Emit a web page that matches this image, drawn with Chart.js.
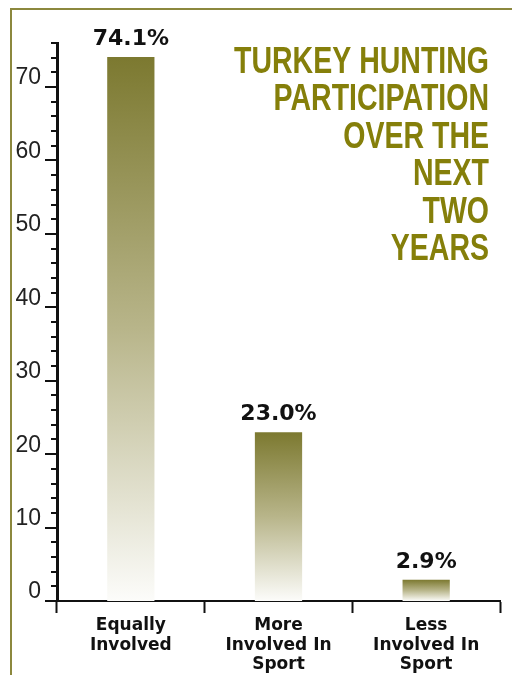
<!DOCTYPE html>
<html>
<head>
<meta charset="utf-8">
<script src="https://cdn.jsdelivr.net/npm/chart.js@4.4.1/dist/chart.umd.min.js"></script>
<style>
  html, body { margin: 0; padding: 0; background: #fff; }
  #wrap { width: 512px; height: 675px; }
</style>
</head>
<body>
<div id="wrap"><canvas id="chart" width="512" height="675"></canvas></div>
<script>
const categories = [
  ["Equally", "Involved"],
  ["More", "Involved In", "Sport"],
  ["Less", "Involved In", "Sport"],
];
const shares = [74.1, 23.0, 2.9];
const titleLines = ["TURKEY HUNTING", "PARTICIPATION", "OVER THE", "NEXT", "TWO", "YEARS"];
const yMax = 76;

const OLIVE = "rgb(133,127,10)";
const FRAME = "rgb(140,136,62)";

// vertical fade from olive at the bar top to almost white at the base
function barFill(context) {
  const chart = context.chart;
  if (!chart.chartArea || !chart.scales.y) return "rgb(125,122,50)";
  const y = chart.scales.y;
  const top = y.getPixelForValue(context.raw);
  const base = y.getPixelForValue(0);
  const g = chart.ctx.createLinearGradient(0, top, 0, base);
  g.addColorStop(0, "rgb(124,121,48)");
  g.addColorStop(0.5, "rgb(184,181,138)");
  g.addColorStop(1, "rgb(252,252,250)");
  return g;
}

const decorations = {
  id: "decorations",
  beforeDraw(chart) {
    const ctx = chart.ctx;
    ctx.save();
    ctx.fillStyle = "#fff";
    ctx.fillRect(0, 0, chart.width, chart.height);
    // frame along the top and left edges
    ctx.fillStyle = FRAME;
    ctx.fillRect(10, 8, chart.width - 10, 2);
    ctx.fillRect(10, 8, 2, chart.height - 8);
    ctx.restore();
  },
  afterDraw(chart) {
    const ctx = chart.ctx;
    const y = chart.scales.y;
    const left = Math.round(chart.chartArea.left);
    const top = Math.round(y.getPixelForValue(yMax));
    const base = Math.round(y.getPixelForValue(0));
    ctx.save();
    ctx.fillStyle = "#111";
    // value axis line
    ctx.fillRect(left - 1, top - 1, 3, base - top + 2);
    // major and minor ticks on the value axis
    for (let v = 0; v <= yMax; v += 2) {
      const py = Math.round(y.getPixelForValue(v));
      const len = v % 10 === 0 ? 12 : 6;
      ctx.fillRect(left - len, py - 1, len, 2);
    }

    // percentage labels above each bar
    ctx.font = "bold 22px 'DejaVu Sans'";
    ctx.textAlign = "center";
    ctx.textBaseline = "alphabetic";
    chart.getDatasetMeta(0).data.forEach((bar, i) => {
      ctx.fillText(shares[i].toFixed(1) + "%", bar.x, bar.y - 12);
    });

    // title block, right aligned
    ctx.fillStyle = OLIVE;
    ctx.font = "bold 37px 'Liberation Sans Narrow', 'Liberation Sans', sans-serif";
    const squeeze = Math.min(1, 255 / ctx.measureText(titleLines[0]).width);
    ctx.textAlign = "right";
    titleLines.forEach((line, i) => {
      ctx.save();
      ctx.translate(489, 73 + i * 37.4);
      ctx.scale(squeeze, 1);
      ctx.fillText(line, 0, 0);
      ctx.restore();
    });
    ctx.restore();
  },
};

new Chart(document.getElementById("chart"), {
  type: "bar",
  data: {
    labels: categories,
    datasets: [
      {
        data: shares,
        backgroundColor: barFill,
        borderWidth: 0,
        barPercentage: 0.32,
        categoryPercentage: 1,
      },
    ],
  },
  options: {
    responsive: false,
    animation: false,
    layout: { padding: { top: 43, right: 12, bottom: 0, left: 0 } },
    plugins: {
      legend: { display: false },
      tooltip: { enabled: false },
    },
    scales: {
      x: {
        afterFit(scale) { scale.height = 74; },
        grid: {
          offset: true,
          drawOnChartArea: false,
          drawTicks: true,
          tickLength: 12,
          tickWidth: 2,
          tickColor: "#111",
        },
        border: { display: true, color: "#111", width: 2 },
        ticks: {
          color: "#111",
          padding: 3,
          maxRotation: 0,
          autoSkip: false,
          font: { family: "'DejaVu Sans'", weight: "bold", size: 17, lineHeight: 1.15 },
        },
      },
      y: {
        min: 0,
        max: yMax,
        afterFit(scale) { scale.width = 57; },
        grid: { display: false, drawTicks: false },
        border: { display: false },
        ticks: {
          stepSize: 2,
          autoSkip: false,
          padding: 16,
          labelOffset: -9,
          color: "#222",
          font: { family: "'Liberation Sans'", size: 23 },
          callback: (v) => (v % 10 === 0 ? v : ""),
        },
      },
    },
  },
  plugins: [decorations],
});
</script>
</body>
</html>
